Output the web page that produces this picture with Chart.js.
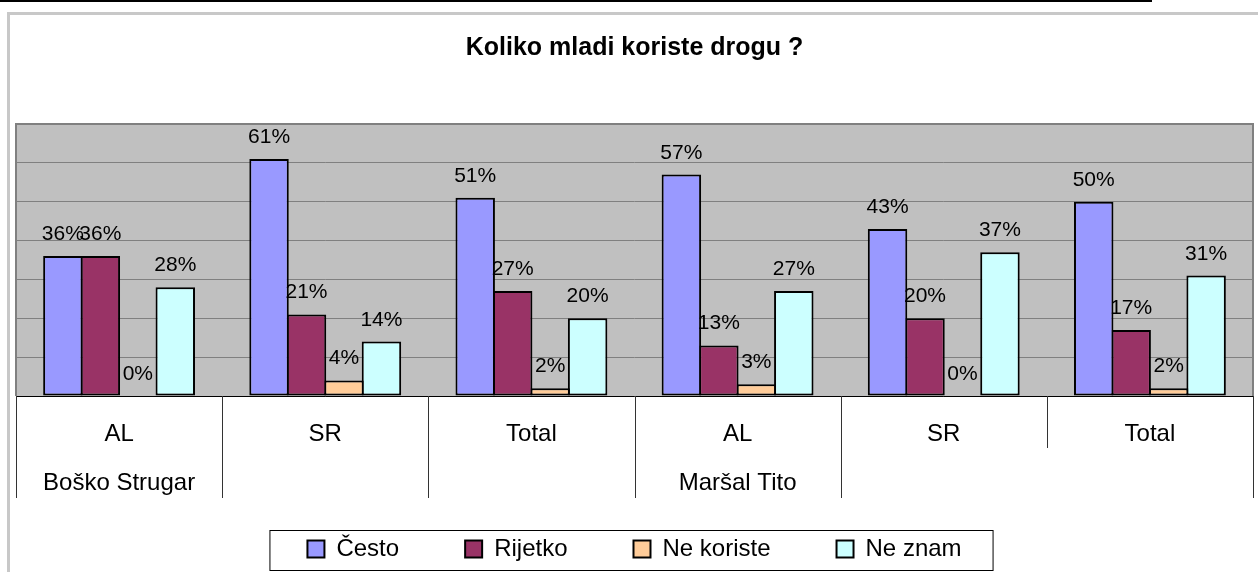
<!DOCTYPE html>
<html>
<head>
<meta charset="utf-8">
<script src="https://cdn.jsdelivr.net/npm/chart.js@4"></script>
<style>
  body { margin: 0; background: #fff; }
  #wrap { width: 1258px; height: 572px; position: relative; }
</style>
</head>
<body>
<div id="wrap"><canvas id="chart"></canvas></div>
<script>
var categories = [["AL", "Boško Strugar"], "SR", "Total", ["AL", "Maršal Tito"], "SR", "Total"];
var cesto = [36, 61, 51, 57, 43, 50];
var rijetko = [36, 21, 27, 13, 20, 17];
var neKoriste = [0, 4, 2, 3, 0, 2];
var neZnam = [28, 14, 20, 27, 37, 31];

Chart.defaults.font.family = "'Liberation Sans', Arial, sans-serif";
Chart.defaults.color = '#000';

// gray plot area, page borders, category dividers, legend frame
var decor = {
  id: 'decor',
  afterLayout: function (chart) {
    // let the two-line category labels run into the legend band
    chart.scales.x.bottom += 45;
  },
  beforeDraw: function (chart) {
    var c = chart.ctx, a = chart.chartArea;
    c.save();
    c.fillStyle = '#c8c8c8';
    c.fillRect(7, 12, 1251, 3);
    c.fillRect(7, 12, 3, 560);
    c.fillStyle = '#000';
    c.fillRect(0, 0, 1152, 2);
    c.fillStyle = '#c0c0c0';
    c.fillRect(a.left, a.top, a.right - a.left, a.bottom - a.top);
    c.restore();
  },
  afterDraw: function (chart) {
    var c = chart.ctx, a = chart.chartArea, x = chart.scales.x;
    c.save();
    c.strokeStyle = '#808080';
    c.lineWidth = 2;
    c.beginPath();
    c.moveTo(a.left, a.bottom);
    c.lineTo(a.left, a.top);
    c.lineTo(a.right, a.top);
    c.lineTo(a.right, a.bottom);
    c.stroke();
    c.strokeStyle = '#000';
    c.lineWidth = 1;
    c.beginPath();
    c.moveTo(a.left, a.bottom + 0.5);
    c.lineTo(a.right, a.bottom + 0.5);
    c.stroke();
    // dividers under the category axis
    var depth = [102, 102, 102, 102, 102, 52, 102];
    var step = x.getPixelForValue(1) - x.getPixelForValue(0);
    c.strokeStyle = '#333';
    for (var i = 0; i <= categories.length; i++) {
      var px = Math.round(x.getPixelForValue(i) - step / 2) + 0.5;
      c.beginPath();
      c.moveTo(px, a.bottom);
      c.lineTo(px, a.bottom + depth[i]);
      c.stroke();
    }
    // legend frame
    var hb = chart.legend.legendHitBoxes;
    if (hb && hb.length) {
      var l = hb[0].left - 38;
      var r = hb[hb.length - 1].left + hb[hb.length - 1].width + 31;
      var t = hb[0].top + 12 - 19;
      c.strokeStyle = '#000';
      c.lineWidth = 1;
      c.strokeRect(l + 0.5, t + 0.5, r - l, 571 - t - 1);
    }
    c.restore();
  },
  afterDatasetsDraw: function (chart) {
    var c = chart.ctx;
    c.save();
    c.font = "21px 'Liberation Sans', Arial, sans-serif";
    c.fillStyle = '#000';
    c.textAlign = 'center';
    c.textBaseline = 'alphabetic';
    chart.data.datasets.forEach(function (ds, di) {
      chart.getDatasetMeta(di).data.forEach(function (bar, i) {
        c.fillText(ds.data[i] + '%', bar.x, bar.y - 16);
      });
    });
    c.restore();
  }
};

var common = { borderColor: '#000', borderWidth: 2, borderSkipped: false };

new Chart(document.getElementById('chart'), {
  type: 'bar',
  data: {
    labels: categories,
    datasets: [
      Object.assign({ label: 'Često', data: cesto, backgroundColor: '#9999ff' }, common),
      Object.assign({ label: 'Rijetko', data: rijetko, backgroundColor: '#993366' }, common),
      Object.assign({ label: 'Ne koriste', data: neKoriste, backgroundColor: '#ffcc99' }, common),
      Object.assign({ label: 'Ne znam', data: neZnam, backgroundColor: '#ccffff' }, common)
    ]
  },
  options: {
    responsive: true,
    maintainAspectRatio: false,
    animation: false,
    devicePixelRatio: 1,
    categoryPercentage: 0.727,
    barPercentage: 1.053,
    layout: { padding: { left: 16, right: 5, top: 0, bottom: 1 } },
    plugins: {
      title: {
        display: true,
        text: 'Koliko mladi koriste drogu ?',
        font: { size: 25, weight: 'bold' },
        color: '#000',
        padding: { top: 33, bottom: 61 }
      },
      legend: {
        position: 'bottom',
        labels: {
          boxWidth: 17,
          boxHeight: 17,
          padding: 66,
          font: { size: 24 },
          color: '#000'
        }
      },
      tooltip: { enabled: false }
    },
    scales: {
      x: {
        grid: { display: false, drawTicks: false },
        border: { display: false },
        ticks: {
          padding: 14,
          maxRotation: 0,
          autoSkip: false,
          font: { size: 24, lineHeight: 2.04 },
          color: '#000'
        },
        afterFit: function (scale) { scale.height = 75; }
      },
      y: {
        min: 0,
        max: 70,
        ticks: { display: false, stepSize: 10 },
        grid: { color: '#808080', lineWidth: 1, drawTicks: false },
        border: { display: false }
      }
    }
  },
  plugins: [decor]
});
</script>
</body>
</html>
